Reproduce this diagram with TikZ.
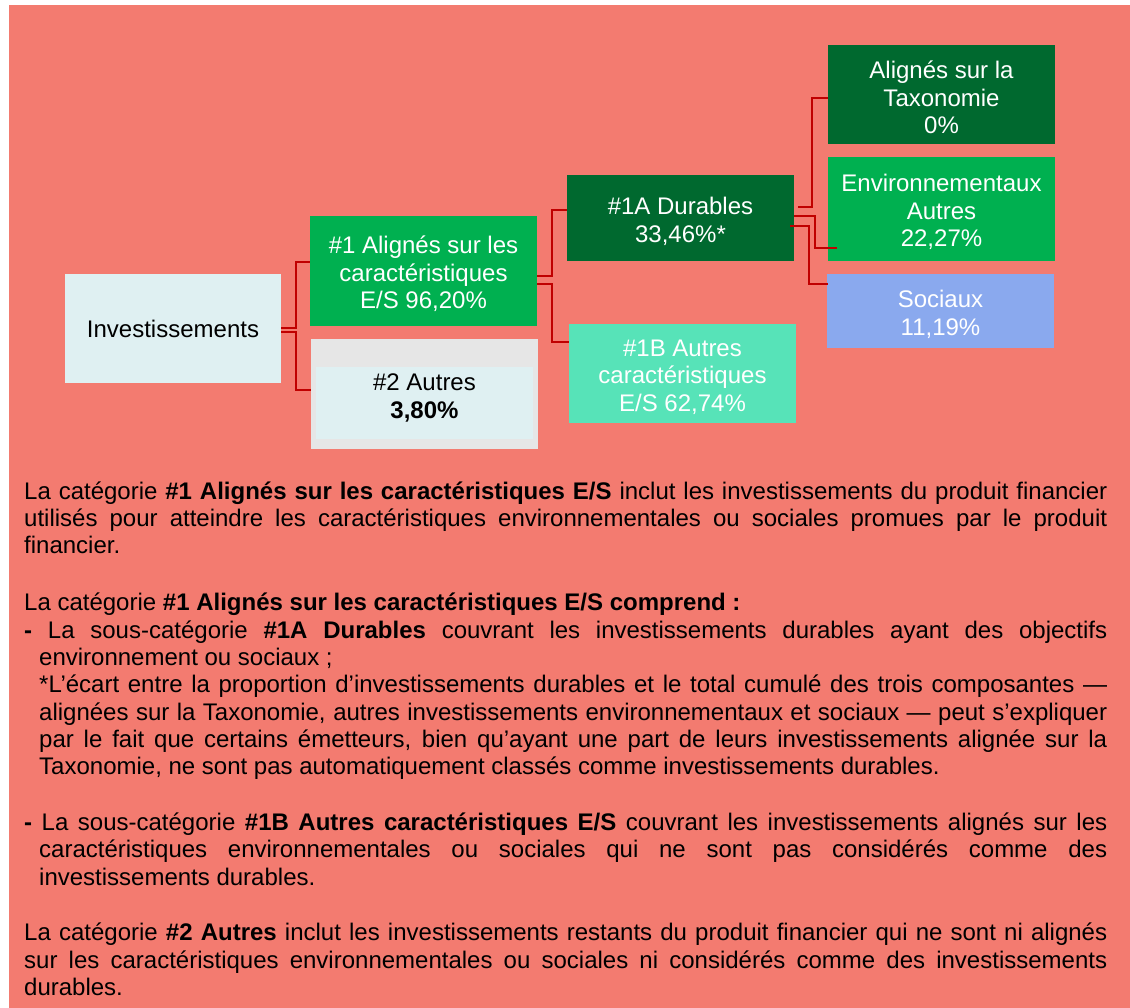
\documentclass[tikz,border=0pt]{standalone}
\usepackage{fontspec}
\setmainfont{Liberation Sans}
\usepackage{tikz}
\usetikzlibrary{calc}
\definecolor{salmon}{HTML}{F37B70}
\definecolor{darkgreen}{HTML}{00692F}
\definecolor{midgreen}{HTML}{00B050}
\definecolor{aqua}{HTML}{57E3B8}
\definecolor{softblue}{HTML}{8AA9EE}
\definecolor{paleblue}{HTML}{DFF0F2}
\definecolor{boxgray}{HTML}{E6E6E6}
\definecolor{linkred}{HTML}{C00000}
\newcommand{\topstrut}{\rule{0pt}{24pt}}

\begin{document}
\begin{tikzpicture}[x=1pt, y=-1pt,
   box/.style={inner sep=2pt, align=center, minimum width=227pt,
      font=\fontsize{24}{27.5}\selectfont},
   darkbox/.style={box, fill=darkgreen, text=white},
   greenbox/.style={box, fill=midgreen, text=white},
   link/.style={draw=linkred, line width=2.2pt}]
   \useasboundingbox (0,0) rectangle (1130,1008);
   \fill[salmon] (9,5) rectangle (1130,1008);
   \node[box, fill=paleblue, minimum width=216pt, minimum height=109pt] (invest) at (173,328.5) {Investissements};
   \node[greenbox, minimum height=110pt] (one) at (423.5,271) {\topstrut\#1 Alignés sur les\\caractéristiques\\E/S 96,20\%};
   \node[box, fill=boxgray, minimum height=110pt] (two) at (424.5,394) {};
   \fill[paleblue] (316,367) rectangle (533,439);
   \node[box, minimum width=0pt] (twotext) at (424.5,398) {\#2 Autres\\\textbf{3,80\%}};
   \node[darkbox, minimum height=86pt] (onea) at (680.5,218) {\topstrut\#1A Durables\\33,46\%*};
   \node[box, fill=aqua, text=white, minimum height=99pt] (oneb) at (682.5,373.5) {\topstrut\#1B Autres\\caractéristiques\\E/S 62,74\%};
   \node[darkbox, minimum height=99pt] (tax) at (941.5,94.5) {\topstrut Alignés sur la\\Taxonomie\\0\%};
   \node[greenbox, minimum height=104pt] (env) at (941.5,209) {\topstrut Environnementaux\\Autres\\22,27\%};
   \node[box, fill=softblue, text=white, minimum height=74pt] (soc) at (940.5,311) {\topstrut Sociaux\\11,19\%};
   \draw[link] ($(invest.east)+(0,-0.5)$) -- ++(15,0) |- ($(one.west)+(0,-9)$);
   \draw[link] ($(invest.east)+(0,3.5)$) -- ++(15,0) |- ($(two.west)+(0,-4)$);
   \draw[link] ($(one.east)+(0,5)$) -- ++(15,0) |- ($(onea.west)+(0,-8)$);
   \draw[link] ($(one.east)+(0,13)$) -- ++(15,0) |- ($(oneb.west)+(0,-31.5)$);
   \draw[link] ($(onea.east)+(4,-11)$) -- ++(14,0) |- ($(tax.west)+(0,3.5)$);
   \draw[link] ($(onea.east)+(0,-2)$) -- ++(21,0) |- ($(env.west)+(9,39)$);
   \draw[link] ($(onea.east)+(-4,8)$) -- ++(19,0) |- ($(soc.west)+(1,-27)$);
   \node[anchor=base west, inner sep=0pt, text width=1083pt, align=justify,
      font=\fontsize{24}{27.3}\selectfont] (notes) at (24,499) {%
      \parindent=0pt \hyphenpenalty=10000 \emergencystretch=20pt
      La catégorie \textbf{\#1 Alignés sur les caractéristiques E/S} inclut les investissements du produit financier\linebreak
      utilisés pour atteindre les caractéristiques environnementales ou sociales promues par le produit\linebreak
      financier.\par\vspace{30pt}
      La catégorie \textbf{\#1 Alignés sur les caractéristiques E/S comprend~:}\par
      \hangindent=15pt \hangafter=1
      \textbf{-} La sous-catégorie \textbf{\#1A Durables} couvrant les investissements durables ayant des objectifs\linebreak
      environnement ou sociaux~;\hfil\break
      *L’écart entre la proportion d’investissements durables et le total cumulé des trois composantes —\linebreak
      alignées sur la Taxonomie, autres investissements environnementaux et sociaux — peut s’expliquer\linebreak
      par le fait que certains émetteurs, bien qu’ayant une part de leurs investissements alignée sur la\linebreak
      Taxonomie, ne sont pas automatiquement classés comme investissements durables.\par\vspace{28.5pt}
      \hangindent=15pt \hangafter=1
      \textbf{-} La sous-catégorie \textbf{\#1B Autres caractéristiques E/S} couvrant les investissements alignés sur les\linebreak
      caractéristiques environnementales ou sociales qui ne sont pas considérés comme des\linebreak
      investissements durables.\par\vspace{28.5pt}
      La catégorie \textbf{\#2 Autres} inclut les investissements restants du produit financier qui ne sont ni alignés\linebreak
      sur les caractéristiques environnementales ou sociales ni considérés comme des investissements\linebreak
      durables.\par};
\end{tikzpicture}
\end{document}
